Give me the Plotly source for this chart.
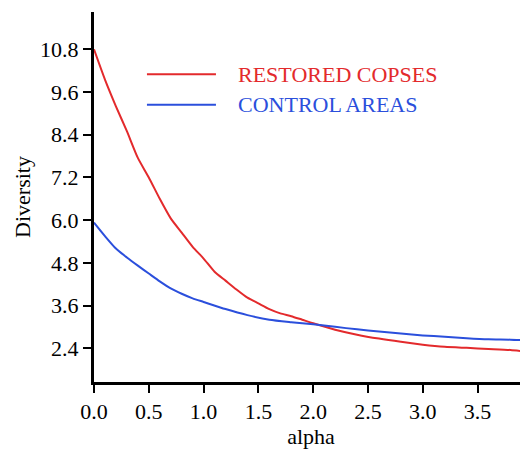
import plotly.graph_objects as go

alpha_red = [0.0, 0.1, 0.2, 0.3, 0.4, 0.5, 0.6, 0.7, 0.8, 0.9, 1.0, 1.1, 1.2, 1.3, 1.4,
             1.5, 1.6, 1.7, 1.8, 1.9, 2.0, 2.2, 2.4, 2.6, 2.8, 3.0, 3.2, 3.4, 3.6, 3.8, 3.96]
restored = [10.8, 9.95, 9.2, 8.5, 7.75, 7.2, 6.6, 6.05, 5.65, 5.25, 4.92, 4.55, 4.3, 4.05, 3.82,
            3.66, 3.50, 3.38, 3.30, 3.20, 3.10, 2.92, 2.78, 2.67, 2.58, 2.50, 2.44, 2.41, 2.38, 2.35, 2.30]

alpha_blue = [0.0, 0.1, 0.2, 0.3, 0.4, 0.5, 0.6, 0.7, 0.8, 0.9, 1.0, 1.2, 1.4, 1.6, 1.8,
              2.0, 2.2, 2.4, 2.6, 2.8, 3.0, 3.2, 3.4, 3.6, 3.8, 3.96]
control = [5.93, 5.55, 5.2, 4.95, 4.72, 4.5, 4.28, 4.08, 3.93, 3.8, 3.7, 3.5, 3.33, 3.2, 3.13,
           3.07, 3.00, 2.93, 2.87, 2.81, 2.76, 2.72, 2.68, 2.65, 2.64, 2.62]

x_ticks = [0.0, 0.5, 1.0, 1.5, 2.0, 2.5, 3.0, 3.5]
y_ticks = [2.4, 3.6, 4.8, 6.0, 7.2, 8.4, 9.6, 10.8]

RED = "#e32a2c"
BLUE = "#2b4fdc"
FONT = "Liberation Serif"
FS = 22

fig = go.Figure()
fig.add_trace(go.Scatter(x=alpha_red, y=restored, mode="lines", name="RESTORED COPSES",
                         line=dict(color=RED, width=2, shape="spline", smoothing=0.6)))
fig.add_trace(go.Scatter(x=alpha_blue, y=control, mode="lines", name="CONTROL AREAS",
                         line=dict(color=BLUE, width=2, shape="spline", smoothing=0.6)))

axis_common = dict(showgrid=False, zeroline=False, showline=True, linecolor="black",
                   linewidth=3, ticks="outside", ticklen=8, tickwidth=2, tickcolor="black",
                   tickfont=dict(family=FONT, size=FS, color="black"))

fig.update_xaxes(range=[0, 3.96], tickvals=x_ticks, ticktext=[f"{v:.1f}" for v in x_ticks],
                 title=dict(text="alpha", font=dict(family=FONT, size=FS, color="black"), standoff=2),
                 **axis_common)
fig.update_yaxes(range=[1.45, 11.85], tickvals=y_ticks, ticktext=[f"{v:.1f}" for v in y_ticks],
                 title=dict(text="Diversity", font=dict(family=FONT, size=FS, color="black"), standoff=4),
                 **axis_common)

# manual legend
legend_items = [("RESTORED COPSES", RED, 0.832), ("CONTROL AREAS", BLUE, 0.749)]
for label, col, yy in legend_items:
    fig.add_shape(type="line", xref="paper", yref="paper", x0=0.122, x1=0.281, y0=yy, y1=yy,
                  line=dict(color=col, width=2))
    fig.add_annotation(xref="paper", yref="paper", x=0.327, y=yy, text=label, showarrow=False,
                       xanchor="left", yanchor="middle",
                       font=dict(family=FONT, size=FS, color=col))

# page body has an 8px default margin; size the figure so the plot area lands where the reference has it
fig.update_layout(width=520, height=444, margin=dict(l=86, r=0, t=4, b=70, autoexpand=False),
                  paper_bgcolor="white", plot_bgcolor="white", showlegend=False)

fig.write_html("out.html")
